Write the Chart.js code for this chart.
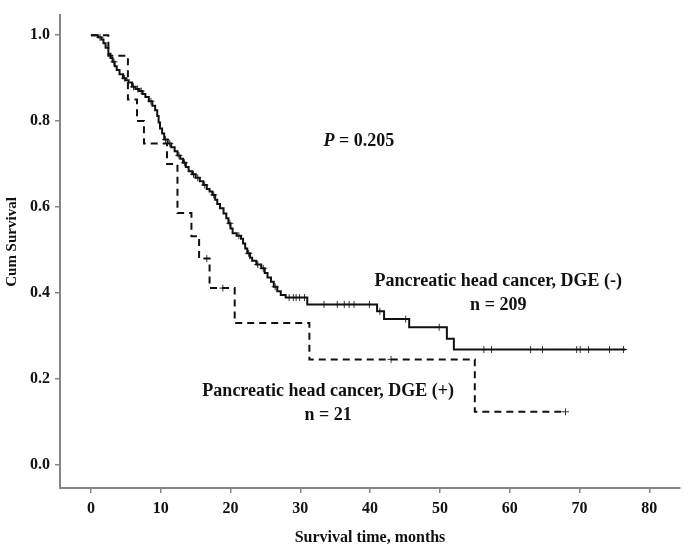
<!DOCTYPE html>
<html>
<head>
<meta charset="utf-8">
<script src="https://cdn.jsdelivr.net/npm/chart.js@4/dist/chart.umd.min.js"></script>
<style>
html, body { margin: 0; padding: 0; background: #fff; }
</style>
</head>
<body>
<canvas id="kmChart" width="685" height="550"></canvas>
<script>
// DGE (-), n = 209 : event times (months) and survival after each event
var negTimes = [0, 1.0, 1.5, 1.8, 2.1, 2.5, 2.8, 3.1, 3.4, 3.7, 4.1, 4.6, 5.0, 5.4, 5.9,
  6.4, 6.9, 7.4, 7.8, 8.3, 8.8, 9.2, 9.5, 9.7, 9.9, 10.2, 10.5, 11.0, 11.5, 12.0, 12.4,
  12.8, 13.2, 13.6, 14.0, 14.5, 15.0, 15.6, 16.1, 16.6, 17.0, 17.4, 17.8, 18.1, 18.5,
  19.0, 19.4, 19.7, 20.0, 20.3, 20.9, 21.5, 21.8, 22.1, 22.4, 22.8, 23.1, 23.7, 24.4,
  24.9, 25.3, 25.8, 26.2, 26.7, 27.2, 27.9, 31.0, 41.0, 42.0, 45.6, 51.0, 52.0, 76.6];
var negSurv = [1.0, 0.995, 0.990, 0.981, 0.971, 0.957, 0.947, 0.938, 0.928, 0.919, 0.909,
  0.900, 0.895, 0.890, 0.880, 0.875, 0.870, 0.863, 0.856, 0.846, 0.836, 0.825, 0.812,
  0.797, 0.783, 0.771, 0.757, 0.748, 0.739, 0.730, 0.720, 0.712, 0.703, 0.693, 0.683,
  0.676, 0.668, 0.660, 0.651, 0.642, 0.636, 0.628, 0.617, 0.607, 0.597, 0.585, 0.574,
  0.562, 0.550, 0.539, 0.533, 0.526, 0.515, 0.503, 0.492, 0.482, 0.475, 0.466, 0.457,
  0.446, 0.436, 0.426, 0.414, 0.404, 0.395, 0.389, 0.373, 0.357, 0.339, 0.320, 0.293,
  0.268, 0.268];
var negCensor = [1.3, 3.3, 4.8, 6.1, 6.7, 7.2, 8.6, 10.7, 11.3, 12.6, 13.4, 14.7, 15.3,
  16.3, 17.6, 19.9, 21.2, 22.6, 23.9, 24.7, 26.4, 28.4, 29.0, 29.4, 29.9, 30.6, 33.4,
  35.3, 36.3, 37.0, 37.7, 39.9, 41.4, 45.1, 49.9, 56.3, 57.4, 63.0, 64.7, 69.6, 70.1,
  71.3, 74.3, 76.3];

// DGE (+), n = 21
var posTimes = [0, 2.5, 5.3, 6.6, 7.6, 10.9, 12.4, 14.4, 15.5, 17.0, 20.6, 31.3, 55.0, 68.0];
var posSurv = [1.0, 0.952, 0.850, 0.800, 0.748, 0.700, 0.586, 0.532, 0.480, 0.411, 0.330,
  0.245, 0.123, 0.123];
var posCensor = [16.6, 18.9, 43.0, 68.0];

var xTicks = [0, 10, 20, 30, 40, 50, 60, 70, 80];
var yTicks = [0, 0.2, 0.4, 0.6, 0.8, 1.0];

function toPoints(times, surv) {
  return times.map(function (t, i) { return { x: t, y: surv[i] }; });
}
function survAt(times, surv, t) {
  var s = surv[0];
  for (var i = 0; i < times.length; i++) {
    if (times[i] <= t) s = surv[i];
  }
  return s;
}
function censorPoints(cens, times, surv) {
  return cens.map(function (t) { return { x: t, y: survAt(times, surv, t) }; });
}

var serif = '"Liberation Serif", "Times New Roman", serif';
var axisGray = '#858585';

var textPlugin = {
  id: 'kmText',
  afterDraw: function (chart) {
    var ctx = chart.ctx, sx = chart.scales.x, sy = chart.scales.y, a = chart.chartArea;
    ctx.save();
    ctx.fillStyle = '#111';
    ctx.textBaseline = 'alphabetic';

    // P value, P in italics
    ctx.font = 'italic bold 18px ' + serif;
    var wP = ctx.measureText('P').width;
    ctx.font = 'bold 18px ' + serif;
    var rest = ' = 0.205';
    var wR = ctx.measureText(rest).width;
    var cx = sx.getPixelForValue(38.4), cy = sy.getPixelForValue(0.741);
    var x0 = cx - (wP + wR) / 2;
    ctx.textAlign = 'left';
    ctx.font = 'italic bold 18px ' + serif;
    ctx.fillText('P', x0, cy);
    ctx.font = 'bold 18px ' + serif;
    ctx.fillText(rest, x0 + wP, cy);

    ctx.textAlign = 'center';
    ctx.font = 'bold 18px ' + serif;
    ctx.fillText('Pancreatic head cancer, DGE (-)', sx.getPixelForValue(58.36), sy.getPixelForValue(0.416));
    ctx.fillText('n = 209', sx.getPixelForValue(58.36), sy.getPixelForValue(0.361));
    ctx.fillText('Pancreatic head cancer, DGE (+)', sx.getPixelForValue(34.0), sy.getPixelForValue(0.159));
    ctx.fillText('n = 21', sx.getPixelForValue(34.0), sy.getPixelForValue(0.105));

    // axis titles
    ctx.font = 'bold 16px ' + serif;
    ctx.fillText('Survival time, months', (a.left + a.right) / 2, 542);
    ctx.save();
    ctx.translate(16, 242);
    ctx.rotate(-Math.PI / 2);
    ctx.font = 'bold 15px ' + serif;
    ctx.fillText('Cum Survival', 0, 0);
    ctx.restore();
    ctx.restore();
  }
};

var tickFont = { family: serif, size: 16, weight: 'bold' };

var ctxK = document.getElementById('kmChart').getContext('2d');
var kmChart = new Chart(ctxK, {
  type: 'line',
  data: {
    datasets: [{
      label: 'DGE (-)',
      data: toPoints(negTimes, negSurv),
      stepped: 'before',
      borderColor: '#111',
      borderWidth: 2,
      pointRadius: 0,
      fill: false
    }, {
      label: 'DGE (+)',
      data: toPoints(posTimes, posSurv),
      stepped: 'before',
      borderColor: '#111',
      borderWidth: 2,
      borderDash: [7, 5],
      pointRadius: 0,
      fill: false
    }, {
      label: 'censored (-)',
      data: censorPoints(negCensor, negTimes, negSurv),
      showLine: false,
      pointStyle: 'cross',
      pointRadius: 3.5,
      borderColor: '#333',
      borderWidth: 1
    }, {
      label: 'censored (+)',
      data: censorPoints(posCensor, posTimes, posSurv),
      showLine: false,
      pointStyle: 'cross',
      pointRadius: 3.5,
      borderColor: '#333',
      borderWidth: 1
    }]
  },
  options: {
    responsive: false,
    animation: false,
    layout: { padding: { top: 3, right: 3, left: 0, bottom: 0 } },
    plugins: { legend: { display: false }, tooltip: { enabled: false } },
    scales: {
      x: {
        type: 'linear',
        min: -4.43,
        max: 84.4,
        afterBuildTicks: function (s) { s.ticks = xTicks.map(function (v) { return { value: v }; }); },
        afterFit: function (s) { s.height = 62; },
        grid: { drawOnChartArea: false, drawTicks: true, tickLength: 5, color: axisGray, lineWidth: 1.5 },
        border: { color: axisGray, width: 2 },
        ticks: { color: '#111', font: tickFont, padding: 6, maxRotation: 0 }
      },
      y: {
        type: 'linear',
        min: -0.0545,
        max: 1.048,
        afterBuildTicks: function (s) { s.ticks = yTicks.map(function (v) { return { value: v }; }); },
        afterFit: function (s) { s.width = 60; },
        grid: { drawOnChartArea: false, drawTicks: true, tickLength: 5, color: axisGray, lineWidth: 1.5 },
        border: { color: axisGray, width: 2 },
        ticks: {
          color: '#111', font: tickFont, padding: 5,
          callback: function (v) { return v.toFixed(1); }
        }
      }
    }
  },
  plugins: [textPlugin]
});
</script>
</body>
</html>
